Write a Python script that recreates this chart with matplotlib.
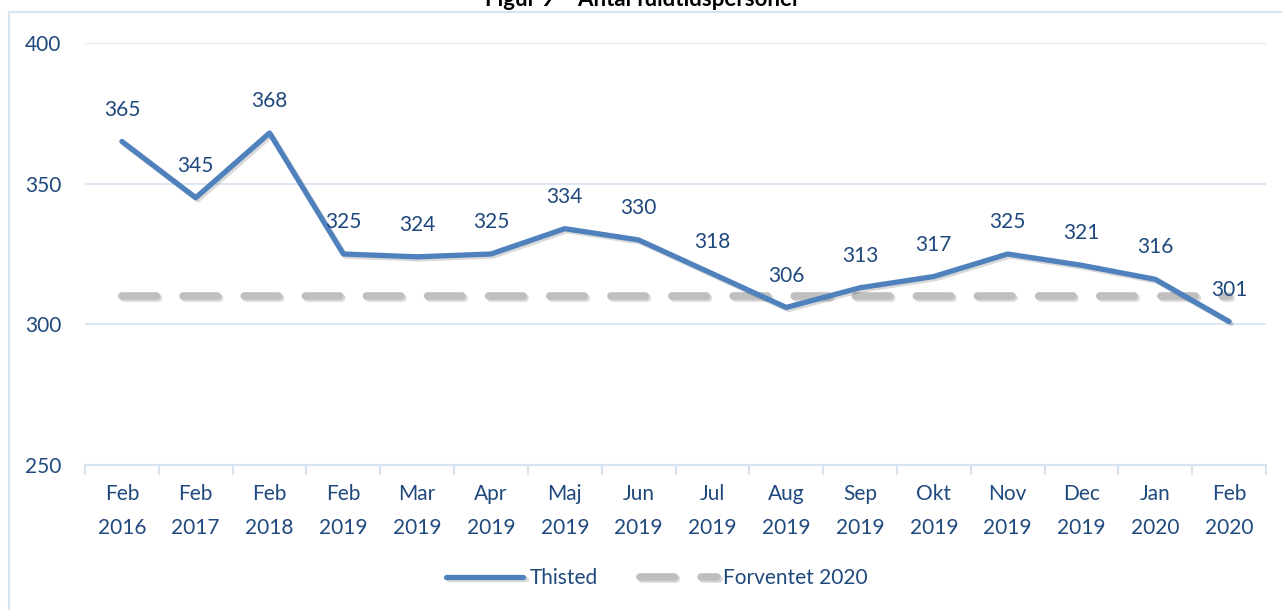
import matplotlib.pyplot as plt
import matplotlib.patches as mpatches
import matplotlib.patheffects as pe
import numpy as np

# data
months = ['Feb\n2016', 'Feb\n2017', 'Feb\n2018', 'Feb\n2019', 'Mar\n2019', 'Apr\n2019',
          'Maj\n2019', 'Jun\n2019', 'Jul\n2019', 'Aug\n2019', 'Sep\n2019', 'Okt\n2019',
          'Nov\n2019', 'Dec\n2019', 'Jan\n2020', 'Feb\n2020']
thisted = [365, 345, 368, 325, 324, 325, 334, 330, 318, 306, 313, 317, 325, 321, 316, 301]
forventet = [310] * len(months)

txt_col = '#1F497D'
line_col = '#4F81BD'
grid_col = '#D6E3F1'

plt.rcParams['font.family'] = ['Lato', 'DejaVu Sans']

fig = plt.figure(figsize=(12.82, 6.10), dpi=100)
ax = fig.add_axes([85 / 1282, 1 - 465 / 610, 1181 / 1282, 422 / 610])

# chart border (partly outside the crop)
fig.patches.append(mpatches.Rectangle((9 / 1282, -0.1), 2.0, 1 - 12 / 610 + 0.1,
                                      transform=fig.transFigure, fill=False,
                                      edgecolor=grid_col, linewidth=1.5))

x = np.arange(len(months))
shadow = [pe.SimpleLineShadow(offset=(1.5, -1.5), alpha=0.15), pe.Normal()]
ax.plot(x, forventet, color='#BFBFBF', linewidth=5.5, dashes=(4.5, 3.5),
        dash_capstyle='round', label='Forventet 2020', zorder=2, path_effects=shadow)
ax.plot(x, thisted, color=line_col, linewidth=3.8, solid_capstyle='round',
        solid_joinstyle='round', label='Thisted', zorder=3, path_effects=shadow)

for xi, v in zip(x, thisted):
    ax.annotate(str(v), (xi, v), xytext=(0, 23), textcoords='offset points',
                ha='center', va='center', fontsize=15, color=txt_col)

ax.set_xlim(-0.5, len(months) - 0.5)
ax.set_ylim(250, 400)
ax.set_yticks([250, 300, 350, 400])
ax.set_xticks(x)
ax.set_xticklabels(months, fontsize=15, color=txt_col, linespacing=1.85)
ax.set_xticks(np.arange(-0.5, len(months), 1), minor=True)
ax.tick_params(axis='x', which='major', length=0, pad=14)
ax.tick_params(axis='x', which='minor', length=7, color=grid_col, width=1.5)
ax.tick_params(axis='y', length=0, labelsize=15, labelcolor=txt_col, pad=17)

ax.grid(axis='y', color=grid_col, linewidth=1.2)
ax.set_axisbelow(True)
for s in ['top', 'right', 'left']:
    ax.spines[s].set_visible(False)
ax.spines['bottom'].set_color(grid_col)
ax.spines['bottom'].set_linewidth(1.5)

handles, labels = ax.get_legend_handles_labels()
fig.legend(handles[::-1], labels[::-1], loc='center', bbox_to_anchor=(657 / 1282, 1 - 578 / 610),
           ncol=2, frameon=False, fontsize=15, labelcolor=txt_col, handlelength=3.7,
           handletextpad=0.3, columnspacing=2.0)

# title, cut off at top in the reference
fig.text(643 / 1282, 1.0, 'Figur 9 – Antal fuldtidspersoner', ha='center', va='center',
         fontsize=16, fontweight='bold', color='black')

plt.savefig('out.png', dpi=100)
